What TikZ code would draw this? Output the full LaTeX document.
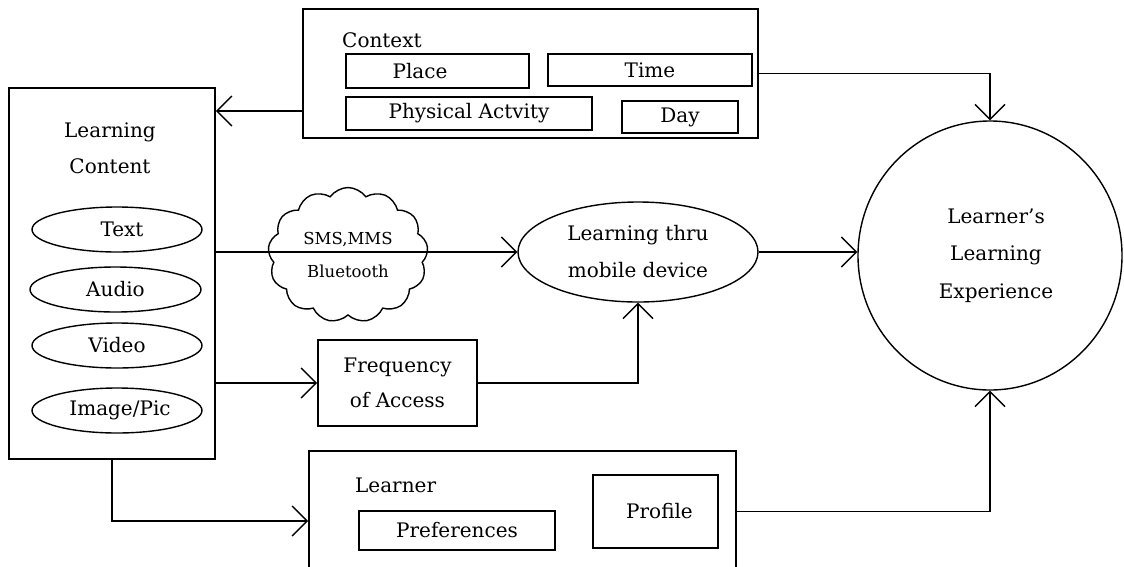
\documentclass[tikz,border=0pt]{standalone}
\usepackage{fontspec}
\setmainfont{DejaVu Serif}
\usetikzlibrary{shapes.geometric,shapes.symbols,arrows.meta}
\begin{document}
\begin{tikzpicture}[x=1pt,y=-1pt,
  every node/.style={font=\fontsize{20}{24}\selectfont},
  box/.style={draw, rectangle, inner sep=0pt, line width=1.8pt},
  oval/.style={draw, ellipse, inner sep=0pt, line width=1.4pt},
  arr/.style={line width=1.8pt, -{Straight Barb[length=15pt,width=30pt,line width=1.4pt]}},
  lbl/.style={inner sep=0pt}
]
\useasboundingbox (0,0) rectangle (1124,566);

% Context
\node[box, minimum width=455pt, minimum height=129pt] (ctx) at (530.5,73.5) {};
\node[lbl, anchor=west] (ctxt) at (342,40) {Context};
\node[box, minimum width=183pt, minimum height=34pt] (place) at (437.5,71) {};
\node[lbl] (placet) at (420,71) {Place};
\node[box, minimum width=204pt, minimum height=32pt] (time) at (650,70) {Time};
\node[box, minimum width=246pt, minimum height=33pt] (phys) at (469,113.5) {Physical Actvity};
\node[box, minimum width=116pt, minimum height=32pt] (day) at (680,117) {Day};

% Learning content
\node[box, minimum width=206pt, minimum height=371pt] (lc) at (112,273.5) {};
\node[lbl, align=center, font=\fontsize{20}{36}\selectfont] (lct) at (110,148) {Learning\\Content};
\node[oval, minimum width=170pt, minimum height=45pt] (text) at (117,229.5) {\hspace*{10pt}Text};
\node[oval, minimum width=171pt, minimum height=45pt] (audio) at (115.5,289.5) {Audio};
\node[oval, minimum width=170pt, minimum height=45pt] (video) at (117,345.5) {Video};
\node[oval, minimum width=170pt, minimum height=45pt] (image) at (117,410.5) {\hspace*{6pt}Image/Pic};

% Cloud
\node[cloud, draw, cloud puffs=13, cloud puff arc=110, cloud ignores aspect, minimum width=160pt, minimum height=135pt,
      inner sep=0pt, line width=1.4pt, align=center, font=\fontsize{16.5}{33}\selectfont]
      (cloud) at (348,255) {SMS,MMS\\Bluetooth};

% Mobile device
\node[oval, minimum width=240pt, minimum height=100pt, align=center, font=\fontsize{20}{37}\selectfont]
      (ml) at (638,252) {Learning thru\\mobile device};

% Learner's learning experience
\node[oval, minimum width=264pt, minimum height=269pt, align=center, font=\fontsize{20}{37.5}\selectfont]
      (circ) at (990,255.5) {\hspace*{12pt}Learner's\\\hspace*{12pt}Learning\\\hspace*{12pt}Experience};

% Frequency
\node[box, minimum width=159pt, minimum height=86pt, align=center, font=\fontsize{20}{35}\selectfont]
      (freq) at (397.5,383) {Frequency\\of Access};

% Learner
\node[box, minimum width=427pt, minimum height=140pt] (learner) at (522.5,521) {};
\node[lbl, anchor=west] (lrt) at (355,485) {Learner};
\node[box, minimum width=196pt, minimum height=39pt] (pref) at (457,530.5) {Preferences};
\node[box, minimum width=125pt, minimum height=73pt] (prof) at (655.5,511.5) {\hspace*{8pt}Profile};

% Connectors
\path (ctx.west) ++(0,37.5) coordinate (ctxout);
\draw[arr] (ctxout) -- (ctxout -| lc.east);
\draw[arr] (ctx.east) -| (circ.north);
\draw[arr] (lc.east |- ml.west) -- (ml.west);
\draw[arr] (lc.east |- freq.west) -- (freq.west);
\draw[arr] (freq.east) -| (ml.south);
\draw[arr] (ml.east) -- (circ.west |- ml.east);
\draw[arr] (lc.south) |- (learner.west);
\draw[arr] (learner.east |- prof.east) -| (circ.south);
\end{tikzpicture}
\end{document}
